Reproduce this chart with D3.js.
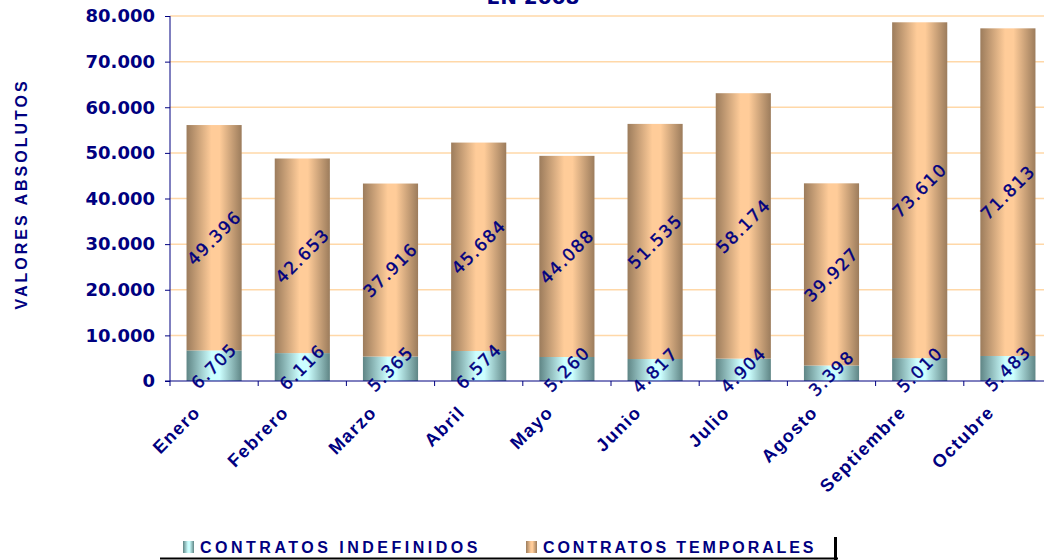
<!DOCTYPE html>
<html>
<head>
<meta charset="utf-8">
<script src="https://cdn.jsdelivr.net/npm/d3@7"></script>
<style>
  body { margin: 0; background: #fff; }
  svg { display: block; }
</style>
</head>
<body>
<div id="chart"></div>
<script>
// data
var months = ["Enero", "Febrero", "Marzo", "Abril", "Mayo", "Junio", "Julio", "Agosto", "Septiembre", "Octubre"];
var indefinidos = [6705, 6116, 5365, 6574, 5260, 4817, 4904, 3398, 5010, 5483];
var temporales = [49396, 42653, 37916, 45684, 44088, 51535, 58174, 39927, 73610, 71813];
var yTicks = [0, 10000, 20000, 30000, 40000, 50000, 60000, 70000, 80000];
var seriesNames = ["CONTRATOS INDEFINIDOS", "CONTRATOS TEMPORALES"];

var width = 1044, height = 560;
var margin = {left: 170, right: -8, top: 16, bottom: 179};
var navy = "#000080";

var es = d3.formatLocale({decimal: ",", thousands: ".", grouping: [3], currency: ["", "€"]});
var fmt = es.format(",d");

var svg = d3.select("#chart").append("svg")
  .attr("width", width).attr("height", height)
  .style("font-family", "'DejaVu Sans', Verdana, sans-serif");

var defs = svg.append("defs");
function barGradient(id, edge, mid) {
  var g = defs.append("linearGradient").attr("id", id)
    .attr("x1", "0%").attr("x2", "100%").attr("y1", "0%").attr("y2", "0%");
  g.append("stop").attr("offset", "0%").attr("stop-color", edge);
  g.append("stop").attr("offset", "45%").attr("stop-color", mid);
  g.append("stop").attr("offset", "60%").attr("stop-color", mid);
  g.append("stop").attr("offset", "100%").attr("stop-color", edge);
}
barGradient("gInd", "#5f8585", "#ccffff");
barGradient("gTmp", "#9c7c5c", "#ffcc99");

var x = d3.scaleBand()
  .domain(months)
  .range([margin.left, width - margin.right])
  .paddingInner(0).paddingOuter(0);
var barW = x.bandwidth() * 0.625;

var y = d3.scaleLinear()
  .domain([0, 80000])
  .range([height - margin.bottom, margin.top]);

// gridlines
svg.append("g").selectAll("line")
  .data(yTicks.slice(1))
  .enter().append("line")
  .attr("x1", margin.left).attr("x2", width)
  .attr("y1", function(d) { return y(d); })
  .attr("y2", function(d) { return y(d); })
  .attr("stroke", "#ffd8a8").attr("stroke-width", 1.5);

var rows = months.map(function(m, i) {
  return {month: m, ind: indefinidos[i], tmp: temporales[i]};
});

var bars = svg.append("g").selectAll("g")
  .data(rows).enter().append("g");

bars.append("rect")
  .attr("x", function(d) { return x(d.month) + (x.bandwidth() - barW) / 2; })
  .attr("width", barW)
  .attr("y", function(d) { return y(d.ind); })
  .attr("height", function(d) { return y(0) - y(d.ind); })
  .attr("fill", "url(#gInd)");

bars.append("rect")
  .attr("x", function(d) { return x(d.month) + (x.bandwidth() - barW) / 2; })
  .attr("width", barW)
  .attr("y", function(d) { return y(d.ind + d.tmp); })
  .attr("height", function(d) { return y(d.ind) - y(d.ind + d.tmp); })
  .attr("fill", "url(#gTmp)");

// value labels, rotated
function valueLabel(sel, val, mid) {
  sel.append("text")
    .attr("transform", function(d) {
      return "translate(" + (x(d.month) + x.bandwidth() / 2) + "," + y(mid(d)) + ") rotate(-45)";
    })
    .attr("text-anchor", "middle")
    .attr("dy", "0.36em")
    .attr("fill", navy)
    .attr("stroke", navy).attr("stroke-width", 0.4)
    .style("font-size", "17px")
    .style("letter-spacing", "1.5px")
    .text(function(d) { return fmt(val(d)); });
}
valueLabel(bars, function(d) { return d.ind; }, function(d) { return d.ind / 2; });
valueLabel(bars, function(d) { return d.tmp; }, function(d) { return d.ind + d.tmp / 2; });

// y axis
var yAxis = d3.axisLeft(y).tickValues(yTicks).tickFormat(fmt).tickSize(5).tickPadding(10);
var gy = svg.append("g").attr("transform", "translate(" + margin.left + ",0)").call(yAxis);
gy.select(".domain").attr("stroke", navy).attr("d", "M0," + y(80000) + "V" + y(0));
gy.selectAll(".tick line").attr("stroke", navy);
gy.selectAll(".tick text").attr("fill", navy)
  .style("font-size", "18px").style("font-weight", "bold")
  .style("font-family", "'DejaVu Sans', Verdana, sans-serif");

// x axis
var xAxis = d3.axisBottom(x).tickSize(0).tickFormat("");
var gx = svg.append("g").attr("transform", "translate(0," + y(0) + ")").call(xAxis);
gx.select(".domain").attr("stroke", navy).attr("d", "M" + (margin.left - 5) + ",0H" + width);
gx.selectAll(".tick").remove();
gx.selectAll(".sep").data(months).enter().append("line")
  .attr("x1", function(d) { return x(d); }).attr("x2", function(d) { return x(d); })
  .attr("y1", 0).attr("y2", 5).attr("stroke", navy);
gx.selectAll(".lbl").data(months).enter().append("text")
  .attr("transform", function(d) {
    return "translate(" + (x(d) + x.bandwidth() / 2 - 17) + ",28) rotate(-45)";
  })
  .attr("text-anchor", "end")
  .attr("dy", "0.35em")
  .attr("fill", navy)
  .style("font-size", "18px").style("font-weight", "bold")
  .style("letter-spacing", "1.5px")
  .text(function(d) { return d; });

// axis title
svg.append("text")
  .attr("transform", "translate(27,194) rotate(-90)")
  .attr("text-anchor", "middle")
  .attr("fill", navy)
  .style("font-family", "'Liberation Sans', Arial, sans-serif")
  .style("font-size", "16px").style("font-weight", "bold")
  .style("letter-spacing", "3px")
  .text("VALORES ABSOLUTOS");

// chart title (cut at the top edge, as in the original)
svg.append("text")
  .attr("x", 533).attr("y", 4)
  .attr("text-anchor", "middle")
  .attr("fill", navy)
  .style("font-size", "20px").style("font-weight", "bold")
  .text("EN 2008");

// legend
var legend = svg.append("g");
var legX = [183, 526];
var legSpacing = [3.5, 2.9];
var lg = legend.selectAll("g").data(seriesNames).enter().append("g")
  .attr("transform", function(d, i) { return "translate(" + legX[i] + ",541)"; });
lg.append("rect").attr("width", 11).attr("height", 12)
  .attr("fill", function(d, i) { return i === 0 ? "url(#gInd)" : "url(#gTmp)"; });
lg.append("text").attr("x", 17).attr("y", 12)
  .attr("fill", navy)
  .style("font-family", "'Liberation Sans', Arial, sans-serif")
  .style("font-size", "16px").style("font-weight", "bold")
  .style("letter-spacing", function(d, i) { return legSpacing[i] + "px"; })
  .text(function(d) { return d; });
legend.append("line").attr("x1", 160).attr("x2", 838).attr("y1", 558.5).attr("y2", 558.5)
  .attr("stroke", "#000").attr("stroke-width", 2);
legend.append("rect").attr("x", 834).attr("y", 537).attr("width", 3).attr("height", 23).attr("fill", "#000");
</script>
</body>
</html>
